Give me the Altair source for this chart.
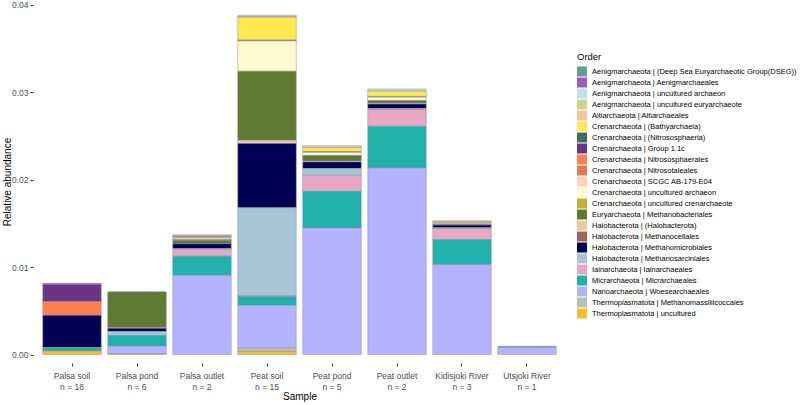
import altair as alt
import pandas as pd

samples = ["Palsa soil", "Palsa pond", "Palsa outlet", "Peat soil",
           "Peat pond", "Peat outlet", "Kidisjoki River", "Utsjoki River"]
sample_n = [18, 6, 2, 15, 5, 2, 3, 1]

orders = [
    "Aenigmarchaeota | (Deep Sea Euryarchaeotic Group(DSEG))",
    "Aenigmarchaeota | Aenigmarchaeales",
    "Aenigmarchaeota | uncultured archaeon",
    "Aenigmarchaeota | uncultured euryarchaeote",
    "Altiarchaeota | Altiarchaeales",
    "Crenarchaeota | (Bathyarchaeia)",
    "Crenarchaeota | (Nitrososphaeria)",
    "Crenarchaeota | Group 1.1c",
    "Crenarchaeota | Nitrososphaerales",
    "Crenarchaeota | Nitrosotaleales",
    "Crenarchaeota | SCGC AB-179-E04",
    "Crenarchaeota | uncultured archaeon",
    "Crenarchaeota | uncultured crenarchaeote",
    "Euryarchaeota | Methanobacteriales",
    "Halobacterota | (Halobacterota)",
    "Halobacterota | Methanocellales",
    "Halobacterota | Methanomicrobiales",
    "Halobacterota | Methanosarciniales",
    "Iainarchaeota | Iainarchaeales",
    "Micrarchaeota | Micrarchaeales",
    "Nanoarchaeota | Woesearchaeales",
    "Thermoplasmatota | Methanomassiliicoccales",
    "Thermoplasmatota | uncultured",
]

order_colors = [
    "#5FA08C", "#9F5CB8", "#C6DCEF", "#C7D98B", "#F4C29C", "#FFE94F",
    "#3E6E5F", "#6A3585", "#FF7F50", "#E07A4E", "#FFD2BE", "#FFFACF",
    "#C9AE32", "#5E7A32", "#EDC8A0", "#A0665A", "#000055", "#A8C5D8",
    "#E6A8C5", "#20B2AA", "#B3B3FF", "#B6C3AE", "#F7BE2A",
]

# values per sample, aligned with `orders`
palsa_soil = [0, 0.0001, 0, 0, 0, 0, 0, 0.0020, 0.00155, 0, 0, 0, 0, 0,
              0, 0, 0.0037, 0, 0, 0.0004, 0, 0, 0.0004]
palsa_pond = [0, 0, 0, 0, 0, 0, 0, 0, 0, 0, 0, 0, 0, 0.0041,
              0.00008, 0, 0.00037, 0.00046, 0, 0.00123, 0.00085, 0, 0.0001]
palsa_outlet = [0, 0, 0, 0, 0.0001, 0.0001, 0, 0, 0, 0.00008, 0.0001, 0.00015, 0.0001, 0.0004,
                0, 0, 0.00054, 0.0001, 0.00077, 0.00221, 0.00905, 0, 0]
peat_soil = [0, 0, 0.00015, 0, 0.0001, 0.0026, 0, 0, 0, 0.0001, 0, 0.00347, 0, 0.0079,
             0.00038, 0, 0.00734, 0.01005, 0.0001, 0.00103, 0.00489, 0.00038, 0.00035]
peat_pond = [0, 0, 0.0002, 0, 0, 0.00046, 0, 0, 0, 0.0001, 0, 0.00034, 0, 0.00065,
             0.0001, 0, 0.00076, 0.00077, 0.00183, 0.0042, 0.01448, 0, 0]
peat_outlet = [0, 0, 0.00025, 0, 0, 0.0006, 0, 0, 0, 0.0001, 0, 0.00038, 0, 0.0003,
               0.0001, 0, 0.0005, 0.00012, 0.00191, 0.00478, 0.02135, 0, 0]
kidisjoki_river = [0, 0, 0, 0, 0.0001, 0.00015, 0, 0, 0, 0.00005, 0, 0.0001, 0, 0.0001,
                   0, 0, 0.0003, 0.0001, 0.00126, 0.00287, 0.01028, 0, 0]
utsjoki_river = [0.00015, 0, 0, 0, 0, 0, 0, 0, 0, 0, 0, 0, 0, 0,
                 0, 0, 0, 0, 0, 0, 0.0008, 0, 0]

values_by_sample = [palsa_soil, palsa_pond, palsa_outlet, peat_soil,
                    peat_pond, peat_outlet, kidisjoki_river, utsjoki_river]

x_labels = [f"{s}|n = {n}" for s, n in zip(samples, sample_n)]

rows = []
for lab, vals in zip(x_labels, values_by_sample):
    for i, (o, v) in enumerate(zip(orders, vals)):
        if v > 0:
            rows.append({"Sample": lab, "Order": o, "abundance": v,
                         "stack": len(orders) - 1 - i})
df = pd.DataFrame(rows)

FONT = "Liberation Sans"

chart = alt.Chart(df).mark_bar(stroke="#8e8ea0", strokeWidth=0.5).encode(
    x=alt.X("Sample:N", sort=x_labels,
            scale=alt.Scale(paddingInner=0.1, paddingOuter=0.15),
            axis=alt.Axis(labelExpr="split(datum.value, '|')", labelAngle=0,
                          domain=False, ticks=True, tickSize=3, tickColor="#333333",
                          labelColor="#4D4D4D", labelFontSize=8.5, labelLineHeight=11,
                          labelPadding=5, labelFont=FONT,
                          title="Sample", titleFont=FONT, titleFontSize=10,
                          titleFontWeight="normal", titleColor="black", titlePadding=1)),
    y=alt.Y("abundance:Q", stack="zero",
            scale=alt.Scale(domain=[-0.00097, 0.040572], nice=False, zero=False),
            axis=alt.Axis(values=[0, 0.01, 0.02, 0.03, 0.04], format=".2f",
                          grid=False, domain=False, tickSize=3, tickColor="#333333",
                          labelColor="#4D4D4D", labelFontSize=8.5, labelFont=FONT,
                          labelPadding=2,
                          title="Relative abundance", titleFont=FONT, titleFontSize=10,
                          titleFontWeight="normal", titleColor="black",
                          titleX=-26, titleBaseline="middle", titleAlign="center")),
    color=alt.Color("Order:N", scale=alt.Scale(domain=orders, range=order_colors),
                    legend=alt.Legend(title="Order", orient="none", legendX=544, legendY=52,
                                      titleFont=FONT, titleFontSize=9.5,
                                      titleFontWeight="normal", titleColor="black",
                                      titlePadding=5,
                                      labelFont=FONT, labelFontSize=7.5, labelColor="black",
                                      labelLimit=400, labelOffset=5,
                                      symbolType="square", symbolSize=100,
                                      symbolStrokeWidth=0, symbolOpacity=1,
                                      rowPadding=1)),
    order=alt.Order("stack:Q", sort="ascending"),
).properties(
    width=533, height=363,
    autosize=alt.AutoSizeParams(type="none"),
    padding={"left": 33, "top": 0, "right": 234, "bottom": 42},
    background="white",
).configure_view(stroke=None)

chart.save("out.html", embed_options={"renderer": "svg", "actions": False})
